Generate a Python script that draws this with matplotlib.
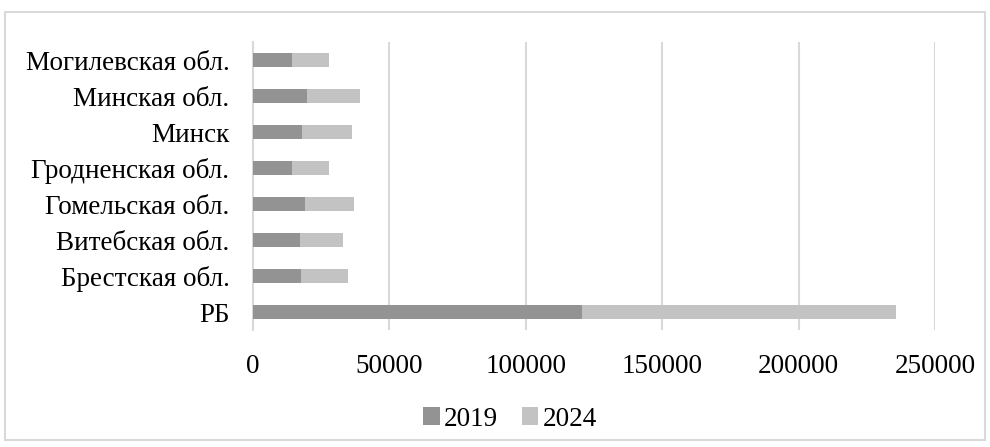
import matplotlib.pyplot as plt
from matplotlib.patches import Rectangle

# данные по регионам (снизу вверх, как на графике)
regioes = ['РБ', 'Брестская обл.', 'Витебская обл.', 'Гомельская обл.',
           'Гродненская обл.', 'Минск', 'Минская обл.', 'Могилевская обл.']
valores_2019 = [120500, 17500, 17200, 19000, 14200, 17900, 19700, 14200]
valores_2024 = [115100, 17200, 15900, 17900, 13600, 18300, 19500, 13700]
ticks_x = [0, 50000, 100000, 150000, 200000, 250000]

plt.rcParams['font.family'] = ['Liberation Serif', 'DejaVu Serif']

fig = plt.figure(figsize=(9.9, 4.47), dpi=100)
ax = fig.add_axes([253 / 990, 1 - 330 / 447, (935 - 253) / 990, 288 / 447])

pos = range(len(regioes))
ax.barh(pos, valores_2019, height=0.38, color='#939393', label='2019', zorder=3)
ax.barh(pos, valores_2024, left=valores_2019, height=0.38, color='#c3c3c3',
        label='2024', zorder=3)

ax.set_xlim(0, 250000)
ax.set_ylim(-0.5, len(regioes) - 0.5)
ax.set_xticks(ticks_x)
ax.set_xticklabels([str(t) for t in ticks_x])
ax.set_yticks(list(pos))
ax.set_yticklabels(regioes)
ax.tick_params(axis='x', length=0, pad=17, labelsize=19.5)
ax.tick_params(axis='y', length=0, pad=17, labelsize=19.5)
ax.grid(axis='x', color='#d9d9d9', linewidth=1.5, zorder=0)
for lado in ['top', 'right', 'bottom']:
    ax.spines[lado].set_visible(False)
ax.spines['left'].set_color('#d9d9d9')
ax.spines['left'].set_linewidth(1.5)

fig.legend(loc='center', bbox_to_anchor=(510 / 990, 1 - 419 / 447), ncol=2,
           frameon=False, fontsize=19.5, handlelength=0.6, handleheight=0.6,
           handletextpad=0.15, columnspacing=0.9)

# moldura externa
fig.patches.append(Rectangle((5 / 990, 1 - 440 / 447), 980 / 990, 428 / 447,
                             transform=fig.transFigure, fill=False,
                             edgecolor='#d9d9d9', linewidth=1.5))

fig.savefig('out.png', dpi=100)
